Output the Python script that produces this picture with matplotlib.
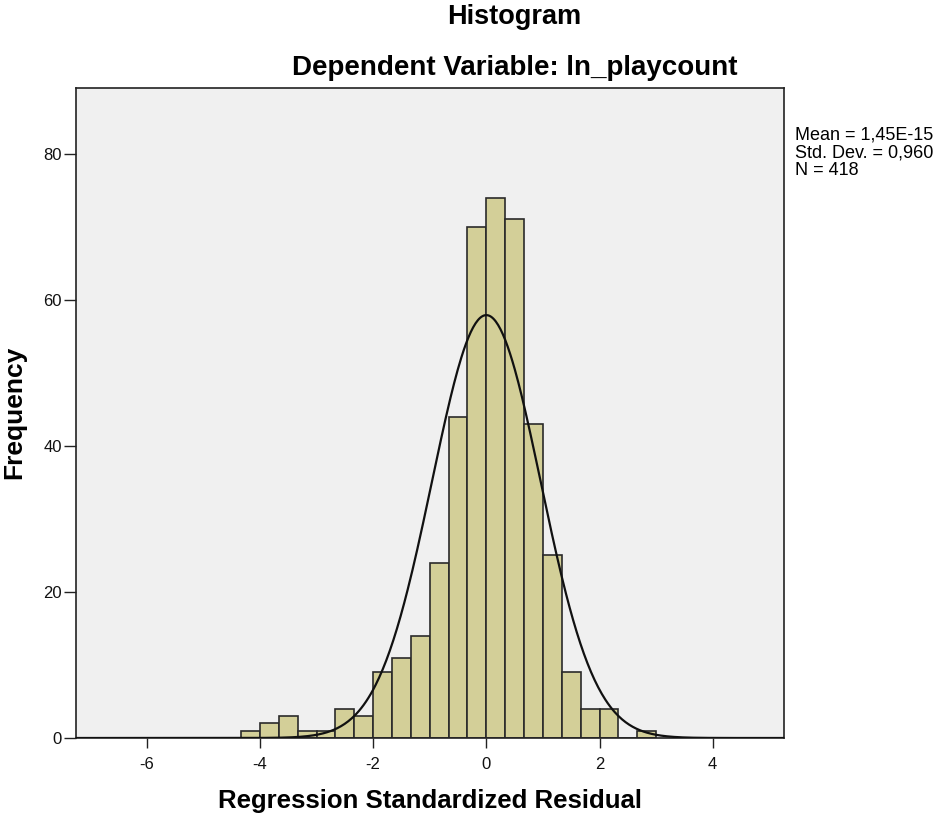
import numpy as np
import matplotlib
matplotlib.use("Agg")
import matplotlib.pyplot as plt

plt.rcParams['font.family'] = ['Liberation Sans', 'DejaVu Sans']
plt.rcParams['axes.unicode_minus'] = False

# Histogram data (bin width 1/3, edges aligned at 0)
bin_start = -13 / 3.0
bin_width = 1 / 3.0
counts = [1, 2, 3, 1, 1, 4, 3, 9, 11, 14, 24, 44, 70, 74, 71, 43, 25, 9, 4, 4, 0, 1]
mean_val = 1.45e-15
std_val = 0.960
n_val = 418
x_ticks = [-6, -4, -2, 0, 2, 4]
y_ticks = [0, 20, 40, 60, 80]

fig = plt.figure(figsize=(9.4, 8.14), dpi=100)
ax = fig.add_axes([76 / 940, 1 - 738 / 814, (784 - 76) / 940, (738 - 88) / 814])
ax.set_facecolor('#f0f0f0')

edges = bin_start + bin_width * np.arange(len(counts))
ax.bar(edges, counts, width=bin_width, align='edge', color='#d3cf98',
       edgecolor='#2a2a2a', linewidth=1.2, zorder=2)

xs = np.linspace(-7.3, 5.3, 600)
ys = n_val * bin_width / (std_val * np.sqrt(2 * np.pi)) * np.exp(-0.5 * ((xs - mean_val) / std_val) ** 2)
ax.plot(xs, ys, color='#111111', linewidth=1.6, zorder=3)

ax.set_xlim(-7.25, 5.26)
ax.set_ylim(0, 89)
ax.set_xticks(x_ticks)
ax.set_yticks(y_ticks)
ax.tick_params(direction='out', width=1, labelsize=12, colors='#222222', labelcolor='#111111')
ax.tick_params(axis='x', length=7.5, pad=6)
ax.tick_params(axis='y', length=8.6, pad=1.5)
for s in ax.spines.values():
    s.set_color('#222222')
    s.set_linewidth(1.2)

fig.text(430 / 940, 1 - 801 / 814, 'Regression Standardized Residual', ha='center', va='center',
         fontsize=18.5, fontweight='bold')
fig.text(14 / 940, 1 - 412 / 814, 'Frequency', ha='center', va='center', rotation=90,
         fontsize=19, fontweight='bold')

fig.text(514 / 940, 1 - 17 / 814, 'Histogram', ha='center', va='center', fontsize=19.5, fontweight='bold')
fig.text(515 / 940, 1 - 68 / 814, 'Dependent Variable: ln_playcount', ha='center', va='center',
         fontsize=20, fontweight='bold')
fig.text(795 / 940, 1 - 127 / 814, 'Mean = 1,45E-15\nStd. Dev. = 0,960\nN = 418',
         ha='left', va='top', fontsize=13, linespacing=1.05)

fig.savefig('out.png', dpi=100, facecolor='white')
